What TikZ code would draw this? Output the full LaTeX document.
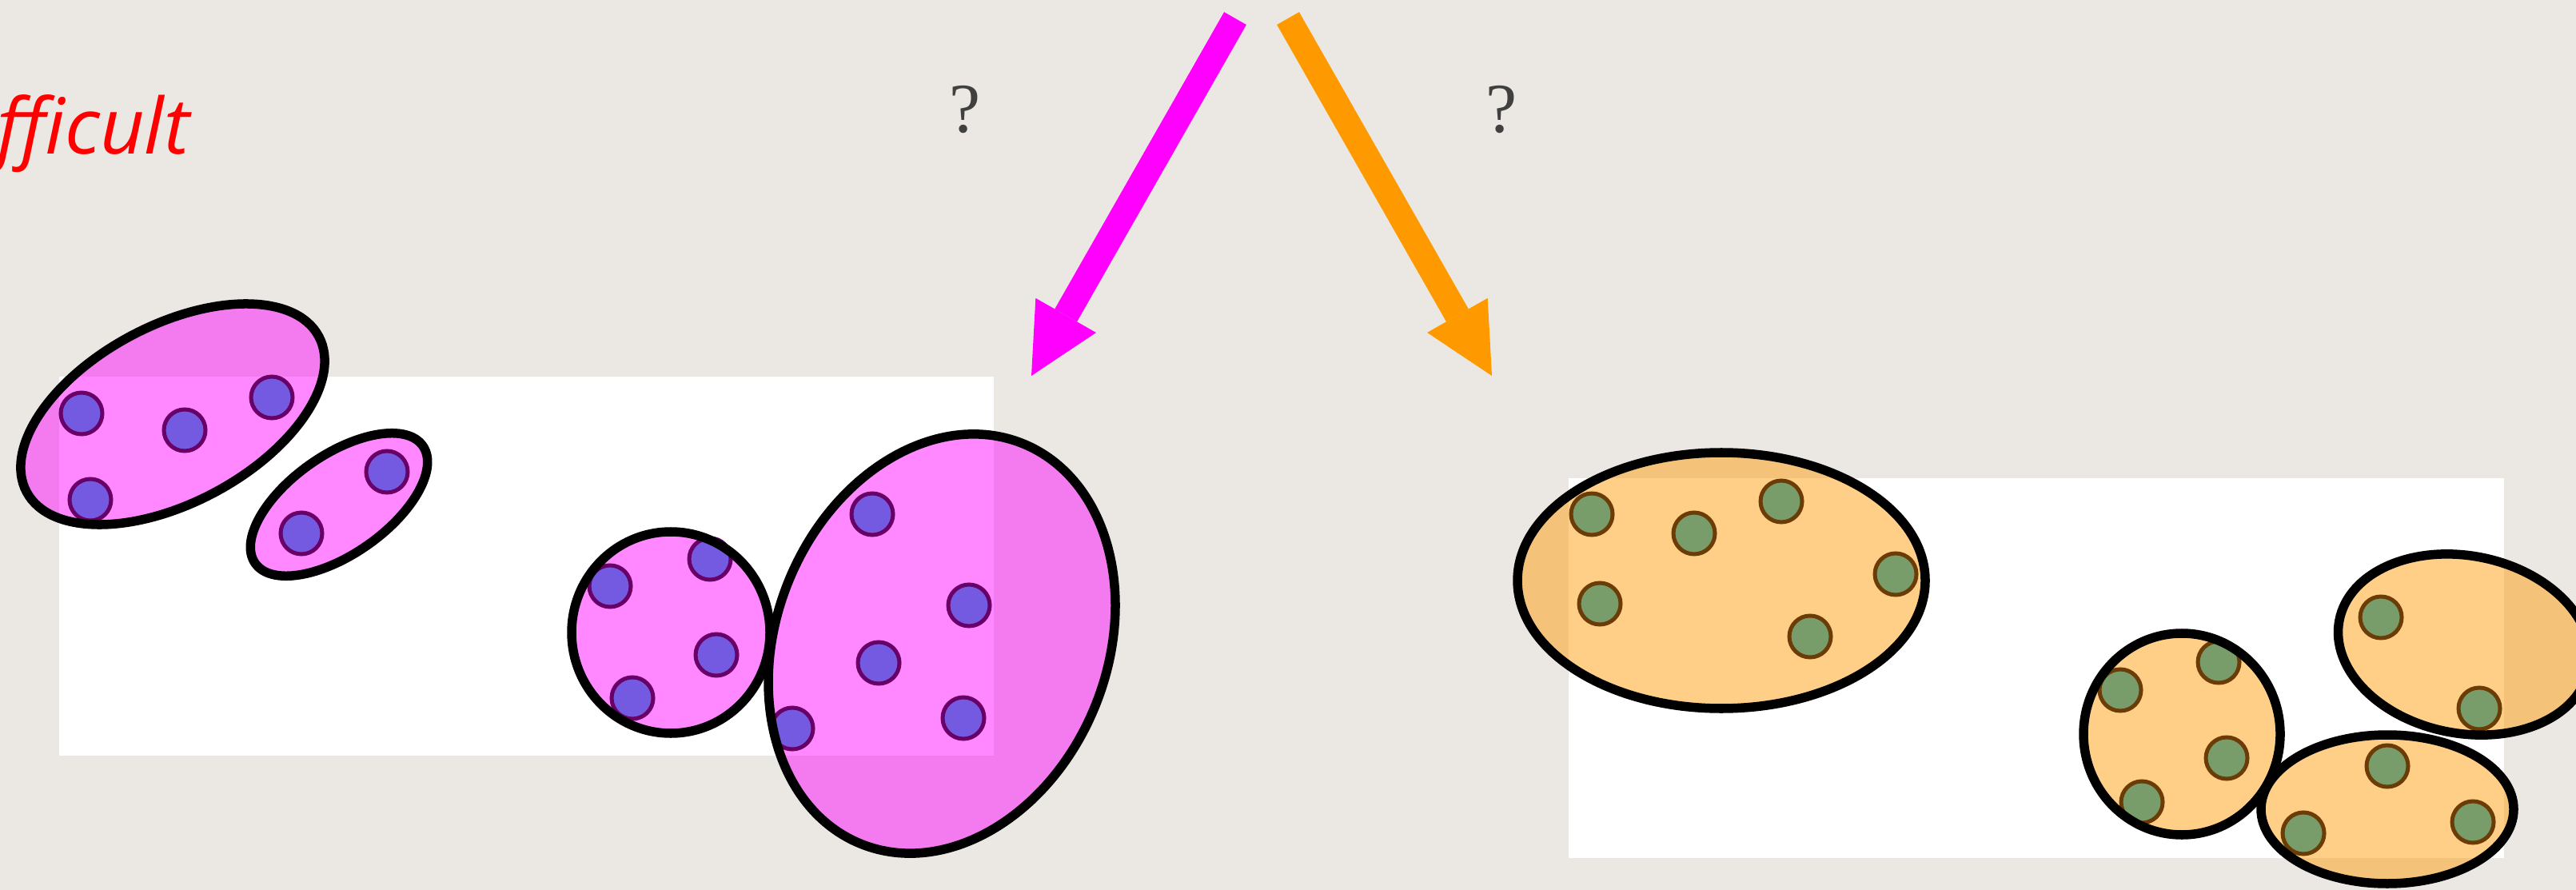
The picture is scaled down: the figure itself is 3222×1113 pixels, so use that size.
\documentclass[tikz,border=0pt]{standalone}
\usepackage{fontspec}
\usepackage{tikz}
\usepackage{xcolor}
\usetikzlibrary{arrows.meta}
\newfontfamily\notefont{Open Sans}
\newfontfamily\qfont{Liberation Serif}
\newcommand{\qmsize}{\qfont\fontsize{25}{30}\selectfont}
\newcommand{\notesize}{\notefont\itshape\fontsize{27.5}{33}\selectfont}
\definecolor{paper}{HTML}{EBE8E3}
\definecolor{qgray}{HTML}{404040}
\definecolor{mag}{HTML}{FF00FF}
\definecolor{orng}{HTML}{FF9900}
\definecolor{violetdot}{HTML}{745AE0}
\definecolor{violetrim}{HTML}{680068}
\definecolor{greendot}{HTML}{789D6B}
\definecolor{greenrim}{HTML}{6B3C05}

\begin{document}
\begin{tikzpicture}[
          x=0.01cm, y=-0.01cm,
          qm/.style={font=\qmsize, text=qgray},
          pinkfill/.style={fill=mag, fill opacity=0.47},
          orngfill/.style={fill=orng, fill opacity=0.47},
          rim/.style={draw=black, line width=0.115cm},
          pdot/.style={fill=violetdot, draw=violetrim, line width=0.05cm},
          gdot/.style={fill=greendot, draw=greenrim, line width=0.05cm},
          pick/.style={line width=0.32cm, -{Triangle[length=0.87cm, width=0.87cm, line width=0pt]}}
      ]
        \useasboundingbox (0,0) rectangle (3222,1113);
        \clip (0,0) rectangle (3222,1113);
        \fill[paper] (0,0) rectangle (3222,1113);

        % title word and the two choices
        \node[anchor=base west, inner sep=0pt, text=red, font=\notesize] (hard) at (-4,193) {fficult};
        \node[qm] (qleft) at (1207,137) {?};
        \node[qm] (qright) at (1878,137) {?};
        \coordinate (magtop) at (1545,23);
        \coordinate (magtip) at (1290,470);
        \coordinate (ortop) at (1611,23);
        \coordinate (ortip) at (1866,470);
        \draw[pick, mag] (magtop) -- (magtip);
        \draw[pick, orng] (ortop) -- (ortip);

        % white panels
        \fill[white] (74,471) rectangle (1243,945);
        \fill[white] (1962,598) rectangle (3132,1073);

        % cluster centres
        \coordinate (p1) at (216,518);
        \coordinate (p2) at (424,631);
        \coordinate (p3) at (839,791);
        \coordinate (p4) at (1178,805);
        \coordinate (o1) at (2153,726);
        \coordinate (o2) at (2729,918);
        \coordinate (o3) at (3082,806);
        \coordinate (o4) at (2986,1012);

        % fills
        \fill[pinkfill, rotate around={28:(p1)}] (p1) ellipse [x radius=207, y radius=111];
        \fill[pinkfill, rotate around={35:(p2)}] (p2) ellipse [x radius=128, y radius=62];
        \fill[pinkfill] (p3) ellipse [x radius=124, y radius=126];
        \fill[pinkfill, rotate around={-22:(p4)}] (p4) ellipse [x radius=207, y radius=270];
        \fill[orngfill] (o1) ellipse [x radius=255, y radius=160];
        \fill[orngfill] (o2) ellipse [x radius=123, y radius=126];
        \fill[orngfill, rotate around={-11:(o3)}] (o3) ellipse [x radius=159, y radius=111];
        \fill[orngfill] (o4) ellipse [x radius=158, y radius=93];

        % points
        \filldraw[pdot] (102,517) circle (26) (231,538) circle (26) (340,497) circle (26) (113,625) circle (26);
        \filldraw[pdot] (484,590) circle (26) (377,667) circle (26);
        \filldraw[pdot] (763,733) circle (26) (888,699) circle (26) (896,819) circle (26) (791,873) circle (26);
        \filldraw[pdot] (1091,643) circle (26) (1212,757) circle (26) (1099,829) circle (26) (1205,898) circle (26) (991,911) circle (26);
        \filldraw[gdot] (1991,643) circle (26) (2119,667) circle (26) (2228,627) circle (26) (2371,718) circle (26) (2001,755) circle (26) (2264,796) circle (26);
        \filldraw[gdot] (2652,863) circle (26) (2775,828) circle (26) (2785,948) circle (26) (2679,1003) circle (26);
        \filldraw[gdot] (2978,772) circle (26) (3101,886) circle (26);
        \filldraw[gdot] (2986,958) circle (26) (2881,1042) circle (26) (3093,1028) circle (26);

        % outlines
        \draw[rim, rotate around={28:(p1)}] (p1) ellipse [x radius=207, y radius=111];
        \draw[rim, rotate around={35:(p2)}] (p2) ellipse [x radius=128, y radius=62];
        \draw[rim] (p3) ellipse [x radius=124, y radius=126];
        \draw[rim, rotate around={-22:(p4)}] (p4) ellipse [x radius=207, y radius=270];
        \draw[rim] (o1) ellipse [x radius=255, y radius=160];
        \draw[rim] (o2) ellipse [x radius=123, y radius=126];
        \draw[rim, rotate around={-11:(o3)}] (o3) ellipse [x radius=159, y radius=111];
        \draw[rim] (o4) ellipse [x radius=158, y radius=93];
      \end{tikzpicture}
\end{document}
